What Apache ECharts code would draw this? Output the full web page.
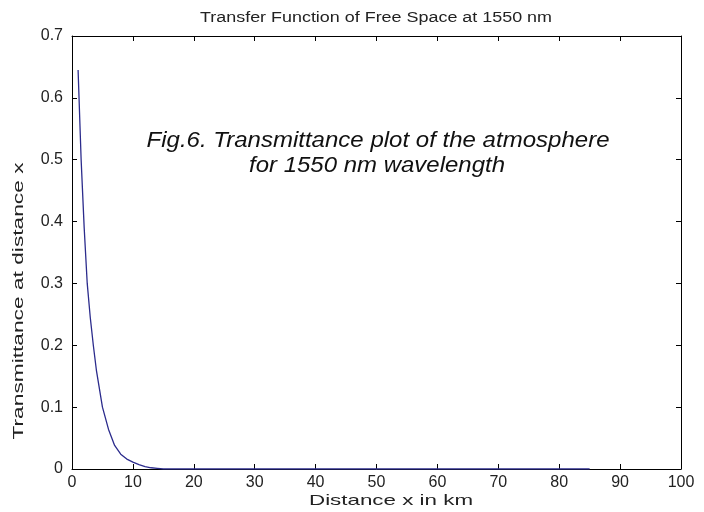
<!DOCTYPE html>
<html>
<head>
<meta charset="utf-8">
<script src="https://cdn.jsdelivr.net/npm/echarts@6/dist/echarts.min.js"></script>
<style>html,body{margin:0;padding:0;background:#fff}#c{width:704px;height:512px}</style>
</head>
<body>
<div id="c"></div>
<script>
var distanceKm = [1, 1.5, 2, 2.5, 3, 3.5, 4, 5, 6, 7, 8, 9, 10, 11, 12, 13, 14, 15, 20, 30, 40, 50, 60, 70, 80, 85];
var transmittance = [0.645, 0.5, 0.39, 0.3, 0.245, 0.2, 0.16, 0.1, 0.064, 0.038, 0.024, 0.016, 0.011, 0.007, 0.004, 0.002, 0.001, 0, 0, 0, 0, 0, 0, 0, 0, 0];
var titleText = 'Transfer Function of Free Space at 1550 nm';
var xName = 'Distance x in km';
var yName = 'Transmittance at distance x';
var noteLine1 = 'Fig.6. Transmittance plot of the atmosphere';
var noteLine2 = 'for 1550 nm wavelength';

var font = 'Liberation Sans, Arial, sans-serif';
var mctx = document.createElement('canvas').getContext('2d');
function stretched(text, fontSpec, cx, cy, targetW, rotation, color) {
  mctx.font = fontSpec;
  var w = mctx.measureText(text).width;
  return {
    type: 'text', x: cx, y: cy, rotation: rotation || 0,
    scaleX: targetW / w, scaleY: 1, silent: true,
    style: {text: text, font: fontSpec, fill: color || '#222', align: 'center', verticalAlign: 'middle',
      textAlign: 'center', textVerticalAlign: 'middle'}
  };
}

var pts = distanceKm.map(function (x, i) { return [x, transmittance[i]]; });
var chart = echarts.init(document.getElementById('c'), null, {renderer: 'canvas'});
var axCommon = {
  axisLine: {show: true, onZero: false, lineStyle: {color: '#000', width: 1}},
  axisTick: {show: true, inside: true, length: 5, lineStyle: {color: '#000'}},
  splitLine: {show: false}
};
var labelStyle = {fontFamily: font, fontSize: 16, color: '#222'};
chart.setOption({
  backgroundColor: '#fff',
  animation: false,
  grid: {left: 72, right: 23, top: 36, bottom: 43},
  xAxis: [
    Object.assign({}, axCommon, {
      type: 'value', min: 0, max: 100, interval: 10, position: 'bottom',
      axisLabel: Object.assign({margin: 6}, labelStyle)
    }),
    Object.assign({}, axCommon, {
      type: 'value', min: 0, max: 100, interval: 10, position: 'top',
      axisLabel: {show: false}
    })
  ],
  yAxis: [
    Object.assign({}, axCommon, {
      type: 'value', min: 0, max: 0.7, interval: 0.1, position: 'left',
      axisLabel: Object.assign({margin: 9, formatter: function (v) { return +v.toFixed(1) + ''; }}, labelStyle)
    }),
    Object.assign({}, axCommon, {
      type: 'value', min: 0, max: 0.7, interval: 0.1, position: 'right',
      axisLabel: {show: false}
    })
  ],
  graphic: [
    stretched(titleText, '14px ' + font, 376, 18, 352, 0, '#222'),
    stretched(xName, '15px ' + font, 391, 501, 164, 0, '#222'),
    stretched(yName, '15px ' + font, 19, 301, 277, Math.PI / 2, '#222'),
    stretched(noteLine1, 'italic 22px ' + font, 378, 141, 463, 0, '#111'),
    stretched(noteLine2, 'italic 22px ' + font, 377, 166, 256, 0, '#111')
  ],
  series: [{
    type: 'line', xAxisIndex: 0, yAxisIndex: 0, data: pts,
    showSymbol: false, smooth: false,
    lineStyle: {color: '#2b2b8c', width: 1.3}
  }]
});
</script>
</body>
</html>
